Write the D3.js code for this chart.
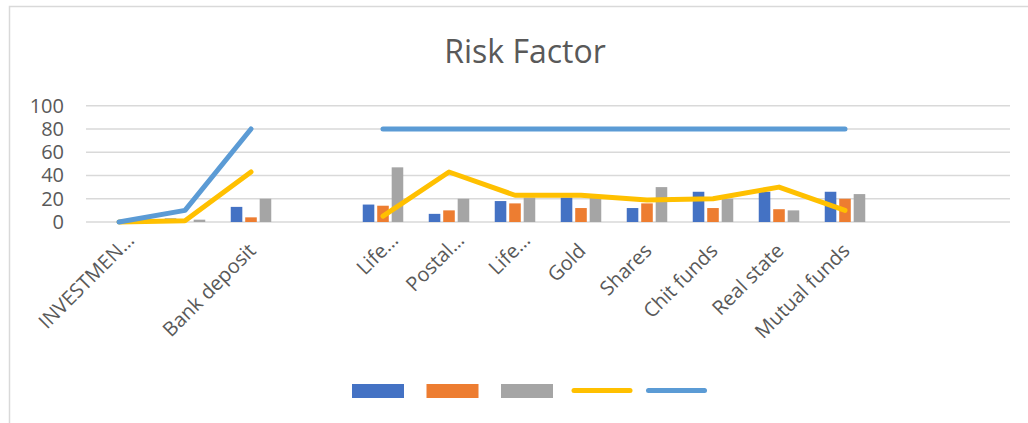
<!DOCTYPE html>
<html>
<head>
<meta charset="utf-8">
<script src="https://cdn.jsdelivr.net/npm/d3@7"></script>
<style>
  body { margin: 0; background: #fff; }
  svg { display: block; font-family: "Open Sans", sans-serif; }
</style>
</head>
<body>
<svg id="chart" width="1028" height="423"></svg>
<script>
// category labels (excel truncated some of them)
var categories = ["INVESTMEN\u2026", "", "Bank deposit", "", "Life\u2026", "Postal\u2026", "Life\u2026",
    "Gold", "Shares", "Chit funds", "Real state", "Mutual funds", "", ""];

// bar series
var seriesBlue = [0, 3, 13, null, 15, 7, 18, 21, 12, 26, 26, 26, null, null];
var seriesOrange = [0, 0, 4, null, 14, 10, 16, 12, 16, 12, 11, 20, null, null];
var seriesGray = [0, 2, 20, null, 47, 20, 21, 21, 30, 20, 10, 24, null, null];

// line series
var lineYellow = [0, 1, 43, null, 5, 43, 23, 23, 19, 20, 30, 10, null, null];
var lineBlue = [0, 10, 80, null, 80, 80, 80, 80, 80, 80, 80, 80, null, null];

var yTicks = [0, 20, 40, 60, 80, 100];

var barColors = ["#4472C4", "#ED7D31", "#A5A5A5"];
var lineColors = ["#FFC000", "#5B9BD5"];

var svg = d3.select("#chart");

// chart frame
svg.append("rect")
    .attr("x", 9.5).attr("y", 6.5)
    .attr("width", 1030).attr("height", 430)
    .attr("fill", "none")
    .attr("stroke", "#d9d9d9")
    .attr("stroke-width", 1.5);

svg.append("text")
    .attr("x", 525)
    .attr("y", 63)
    .attr("text-anchor", "middle")
    .attr("fill", "#595959")
    .style("font-size", "32px")
    .text("Risk Factor");

var idx = categories.map(function (d, i) { return i; });

var x = d3.scaleBand()
    .domain(idx)
    .range([86, 1010])
    .padding(0);

var y = d3.scaleLinear()
    .domain([0, 100])
    .range([222, 105.7]);

var xInner = d3.scaleBand()
    .domain([0, 1, 2])
    .range([x.bandwidth() / 2 - 20.25, x.bandwidth() / 2 + 20.25])
    .paddingInner(0.2);

// gridlines
svg.append("g")
    .selectAll("line")
    .data(yTicks)
    .enter()
    .append("line")
    .attr("x1", 86).attr("x2", 1010)
    .attr("y1", function (d) { return y(d); })
    .attr("y2", function (d) { return y(d); })
    .attr("stroke", "#d9d9d9")
    .attr("stroke-width", 1.5);

// y labels
var yAxis = svg.append("g")
    .attr("transform", "translate(64,0)")
    .call(d3.axisLeft(y).tickValues(yTicks).tickSize(0).tickPadding(0));
yAxis.select(".domain").remove();
yAxis.selectAll("text")
    .attr("fill", "#595959")
    .style("font-size", "20px")
    .style("font-family", "Open Sans, sans-serif");

// x labels, rotated 45deg; truncated ones sit a bit further out like excel does
var xAxis = svg.append("g")
    .attr("transform", "translate(0,222)")
    .call(d3.axisBottom(x).tickSize(0).tickFormat(function (i) { return categories[i]; }));
xAxis.select(".domain").remove();
xAxis.selectAll("text")
    .attr("fill", "#595959")
    .style("font-size", "20px")
    .style("font-family", "Open Sans, sans-serif")
    .attr("text-anchor", "end")
    .attr("y", 0)
    .attr("dy", 0)
    .attr("dx", function (i) { return categories[i].slice(-1) === "\u2026" ? 15 : 0; })
    .attr("transform", "translate(6,30) rotate(-45)");

// bars
var barSeries = [seriesBlue, seriesOrange, seriesGray];
barSeries.forEach(function (vals, s) {
    svg.append("g")
        .selectAll("rect")
        .data(vals.map(function (v, i) { return { i: i, v: v }; })
            .filter(function (d) { return d.v != null && d.v > 0; }))
        .enter()
        .append("rect")
        .attr("x", function (d) { return x(d.i) + xInner(s); })
        .attr("width", xInner.bandwidth())
        .attr("y", function (d) { return y(d.v); })
        .attr("height", function (d) { return y(0) - y(d.v); })
        .attr("fill", barColors[s]);
});

// lines
var line = d3.line()
    .defined(function (d) { return d.v != null; })
    .x(function (d) { return x(d.i) + x.bandwidth() / 2; })
    .y(function (d) { return y(d.v); });

[lineYellow, lineBlue].forEach(function (vals, s) {
    svg.append("path")
        .datum(vals.map(function (v, i) { return { i: i, v: v }; }))
        .attr("d", line)
        .attr("fill", "none")
        .attr("stroke", lineColors[s])
        .attr("stroke-width", 5)
        .attr("stroke-linecap", "round")
        .attr("stroke-linejoin", "round");
});

// legend (no series names)
var legend = svg.append("g").attr("transform", "translate(352,384)");
barColors.forEach(function (c, i) {
    legend.append("rect")
        .attr("x", i * 74.5)
        .attr("y", 0)
        .attr("width", 52)
        .attr("height", 14)
        .attr("fill", c);
});
lineColors.forEach(function (c, i) {
    var lx = (i + 3) * 74.5;
    legend.append("line")
        .attr("x1", lx - 1.5).attr("x2", lx + 52 + 2.5)
        .attr("y1", 6.5).attr("y2", 6.5)
        .attr("stroke", c)
        .attr("stroke-width", 5)
        .attr("stroke-linecap", "round");
});
</script>
</body>
</html>
